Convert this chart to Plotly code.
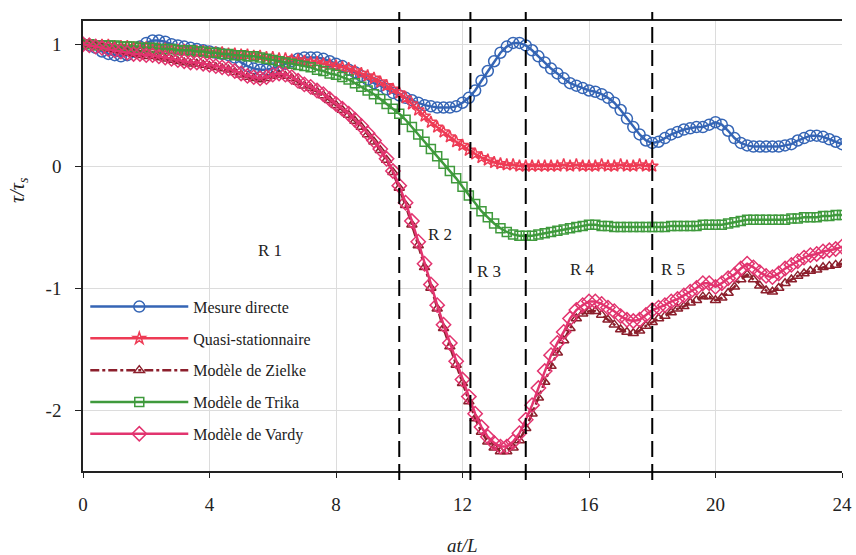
import plotly.graph_objects as go

# x sampling (at/L), step 0.2
x_full = [round(i * 0.2, 1) for i in range(121)]
x_quasi = [round(i * 0.2, 1) for i in range(91)]

mesure_directe = [
    1.00, 0.99, 0.97, 0.94, 0.92,
    0.91, 0.90, 0.91, 0.94, 0.98,
    1.01, 1.03, 1.03, 1.02, 1.00,
    0.99, 0.98, 0.97, 0.96, 0.95,
    0.94, 0.93, 0.92, 0.91, 0.89,
    0.85, 0.82, 0.80, 0.79, 0.79,
    0.80, 0.82, 0.84, 0.86, 0.88,
    0.89, 0.89, 0.89, 0.88, 0.86,
    0.84, 0.82, 0.79, 0.77, 0.74,
    0.71, 0.68, 0.66, 0.63, 0.60,
    0.58, 0.56, 0.54, 0.52, 0.50,
    0.49, 0.48, 0.48, 0.48, 0.49,
    0.52, 0.56, 0.62, 0.70, 0.78,
    0.86, 0.93, 0.98, 1.01, 1.01,
    0.99, 0.95, 0.90, 0.85, 0.80,
    0.76, 0.72, 0.68, 0.66, 0.64,
    0.62, 0.61, 0.59, 0.56, 0.52,
    0.46, 0.39, 0.32, 0.26, 0.21,
    0.19, 0.20, 0.23, 0.26, 0.28,
    0.30, 0.31, 0.32, 0.32, 0.34,
    0.36, 0.34, 0.29, 0.23, 0.19,
    0.17, 0.16, 0.16, 0.16, 0.16,
    0.16, 0.17, 0.18, 0.21, 0.23,
    0.25, 0.25, 0.24, 0.22, 0.20,
    0.18,
]

quasi_stationnaire = [
    1.00, 1.00, 0.99, 0.99, 0.99,
    0.98, 0.98, 0.98, 0.97, 0.97,
    0.97, 0.96, 0.96, 0.96, 0.95,
    0.95, 0.95, 0.94, 0.94, 0.94,
    0.93, 0.93, 0.93, 0.92, 0.92,
    0.91, 0.91, 0.90, 0.90, 0.89,
    0.89, 0.88, 0.88, 0.87, 0.87,
    0.86, 0.85, 0.85, 0.84, 0.83,
    0.82, 0.81, 0.80, 0.78, 0.76,
    0.74, 0.72, 0.69, 0.66, 0.63,
    0.60, 0.56, 0.51, 0.46, 0.41,
    0.36, 0.32, 0.28, 0.24, 0.20,
    0.17, 0.13, 0.10, 0.07, 0.05,
    0.03, 0.02, 0.01, 0.01, 0.00,
    0.00, 0.00, 0.00, 0.00, 0.00,
    0.00, 0.01, 0.00, 0.01, 0.00,
    0.00, 0.00, 0.01, 0.00, 0.00,
    0.01, 0.00, 0.00, 0.01, 0.00,
    0.00,
]

modele_zielke = [
    1.00, 0.99, 0.98, 0.97, 0.96,
    0.95, 0.94, 0.93, 0.92, 0.91,
    0.90, 0.90, 0.89, 0.88, 0.87,
    0.86, 0.85, 0.84, 0.84, 0.83,
    0.82, 0.81, 0.80, 0.79, 0.77,
    0.75, 0.73, 0.72, 0.71, 0.72,
    0.74, 0.75, 0.74, 0.72, 0.69,
    0.66, 0.64, 0.61, 0.58, 0.54,
    0.50, 0.46, 0.42, 0.37, 0.32,
    0.26, 0.20, 0.13, 0.05, -0.05,
    -0.18, -0.32, -0.48, -0.65, -0.83,
    -1.00, -1.17, -1.33, -1.48, -1.63,
    -1.78, -1.93, -2.07, -2.18, -2.26,
    -2.31, -2.34, -2.34, -2.31, -2.25,
    -2.15, -2.03, -1.90, -1.77, -1.64,
    -1.53, -1.43, -1.33, -1.25, -1.21,
    -1.19, -1.19, -1.22, -1.26, -1.30,
    -1.34, -1.36, -1.37, -1.35, -1.31,
    -1.28, -1.25, -1.23, -1.20, -1.17,
    -1.15, -1.12, -1.10, -1.07, -1.07,
    -1.10, -1.08, -1.04, -0.99, -0.93,
    -0.89, -0.93, -0.98, -1.02, -1.03,
    -1.00, -0.96, -0.93, -0.90, -0.88,
    -0.86, -0.85, -0.83, -0.82, -0.81,
    -0.80,
]

modele_trika = [
    1.00, 1.00, 0.99, 0.99, 0.99,
    0.99, 0.98, 0.98, 0.98, 0.97,
    0.97, 0.97, 0.96, 0.96, 0.96,
    0.95, 0.95, 0.95, 0.94, 0.94,
    0.93, 0.93, 0.92, 0.92, 0.91,
    0.91, 0.90, 0.90, 0.89, 0.88,
    0.87, 0.86, 0.85, 0.84, 0.83,
    0.82, 0.81, 0.79, 0.78, 0.76,
    0.75, 0.73, 0.71, 0.68, 0.65,
    0.62, 0.59, 0.55, 0.51, 0.47,
    0.43, 0.38, 0.32, 0.26, 0.20,
    0.14, 0.08, 0.02, -0.04, -0.10,
    -0.17, -0.24, -0.31, -0.37, -0.42,
    -0.47, -0.51, -0.54, -0.56, -0.57,
    -0.57, -0.57, -0.56, -0.55, -0.54,
    -0.53, -0.52, -0.51, -0.50, -0.49,
    -0.48, -0.48, -0.49, -0.49, -0.50,
    -0.50, -0.50, -0.50, -0.50, -0.50,
    -0.50, -0.50, -0.50, -0.49, -0.49,
    -0.49, -0.49, -0.49, -0.48, -0.48,
    -0.48, -0.48, -0.47, -0.46, -0.45,
    -0.44, -0.44, -0.44, -0.44, -0.44,
    -0.44, -0.44, -0.43, -0.43, -0.42,
    -0.42, -0.42, -0.41, -0.41, -0.40,
    -0.40,
]

modele_vardy = [
    1.00, 0.99, 0.98, 0.97, 0.96,
    0.95, 0.94, 0.93, 0.92, 0.92,
    0.91, 0.91, 0.90, 0.89, 0.88,
    0.87, 0.86, 0.85, 0.85, 0.84,
    0.83, 0.82, 0.81, 0.80, 0.78,
    0.76, 0.74, 0.73, 0.72, 0.73,
    0.75, 0.76, 0.75, 0.73, 0.70,
    0.67, 0.65, 0.62, 0.59, 0.55,
    0.51, 0.47, 0.43, 0.38, 0.33,
    0.27, 0.21, 0.14, 0.06, -0.04,
    -0.16, -0.30, -0.45, -0.62, -0.80,
    -0.97, -1.14, -1.30, -1.45, -1.60,
    -1.75, -1.89, -2.03, -2.14, -2.22,
    -2.27, -2.30, -2.30, -2.26, -2.19,
    -2.08, -1.96, -1.82, -1.68, -1.55,
    -1.45, -1.36, -1.25, -1.18, -1.14,
    -1.11, -1.11, -1.13, -1.16, -1.19,
    -1.23, -1.26, -1.27, -1.26, -1.22,
    -1.18, -1.16, -1.14, -1.11, -1.09,
    -1.06, -1.03, -1.00, -0.96, -0.96,
    -0.99, -0.96, -0.92, -0.89, -0.84,
    -0.80, -0.83, -0.87, -0.90, -0.91,
    -0.88, -0.84, -0.81, -0.78, -0.75,
    -0.73, -0.72, -0.70, -0.69, -0.68,
    -0.66,
]

region_bounds = [10, 12.25, 14, 18]
region_labels = ["R 1", "R 2", "R 3", "R 4", "R 5"]
region_label_x = [5.9, 11.3, 12.85, 15.8, 18.65]
region_label_y = [-0.69, -0.56, -0.86, -0.85, -0.85]

x_ticks = [0, 4, 8, 12, 16, 20, 24]
y_ticks = [-2, -1, 0, 1]
y_tick_text = ["-2", "-1", "0", "1"]

FONT = "Liberation Serif"

fig = go.Figure()

series = [
    ("Mesure directe", x_full, mesure_directe, "#3565b5", "circle-open", 11, "solid"),
    ("Quasi-stationnaire", x_quasi, quasi_stationnaire, "#ee3b55", "star-open", 9, "solid"),
    ("Modèle de Zielke", x_full, modele_zielke, "#8c1f2c", "triangle-up-open", 9, "dashdot"),
    ("Modèle de Trika", x_full, modele_trika, "#3f9a3c", "square-open", 9, "solid"),
    ("Modèle de Vardy", x_full, modele_vardy, "#e2346f", "diamond-open", 11, "solid"),
]

for i, (name, xs, ys, col, sym, sz, dash) in enumerate(series):
    fig.add_trace(go.Scatter(
        x=xs, y=ys, name=name, mode="lines+markers",
        line=dict(color=col, width=2.5, dash=dash),
        marker=dict(symbol=sym, size=sz, color=col, line=dict(color=col, width=1.5)),
        legendgroup="g%d" % i,
    ))

for xb in region_bounds:
    fig.add_shape(type="line", xref="x", yref="paper", x0=xb, x1=xb, y0=-0.02, y1=1.02,
                  line=dict(color="black", width=2, dash="16px,7px"), layer="above")

for lab, lx, ly in zip(region_labels, region_label_x, region_label_y):
    fig.add_annotation(x=lx, y=ly, xref="x", yref="y", text=lab, showarrow=False,
                       font=dict(family=FONT, size=17, color="#222"))

fig.add_annotation(x=0.5, y=-0.165, xref="paper", yref="paper", text="<i>at/L</i>",
                   xanchor="center", yanchor="middle",
                   showarrow=False, font=dict(family=FONT, size=19, color="#222"))
fig.add_annotation(x=-0.086, y=0.624, xref="paper", yref="paper",
                   text="<i>τ/τ<sub>s</sub></i>", textangle=-90,
                   xanchor="center", yanchor="middle",
                   showarrow=False, font=dict(family=FONT, size=20, color="#222"))

fig.update_layout(
    width=856, height=555,
    margin=dict(l=83, r=14, t=21, b=84, autoexpand=False),
    paper_bgcolor="white", plot_bgcolor="white",
    font=dict(family=FONT, color="#222"),
    showlegend=True,
    legend=dict(x=0.003, y=0.403, xanchor="left", yanchor="top",
                bgcolor="rgba(0,0,0,0)", font=dict(family=FONT, size=16, color="#222"),
                tracegroupgap=8, itemwidth=98),
    xaxis=dict(range=[0, 24], tickvals=x_ticks, showgrid=True, gridcolor="#dcdcdc",
               gridwidth=1, zeroline=False, showline=True, linecolor="#222", linewidth=1.5,
               mirror=True, ticks="outside", ticklen=5, tickcolor="#222",
               automargin=False, ticklabelstandoff=10,
               tickfont=dict(family=FONT, size=19, color="#222")),
    yaxis=dict(range=[-2.5, 1.19], tickvals=y_ticks, ticktext=y_tick_text,
               showgrid=True, gridcolor="#dcdcdc",
               gridwidth=1, zeroline=False, showline=True, linecolor="#222", linewidth=1.5,
               ticks="outside", ticklen=6, tickcolor="#222",
               automargin=False, ticklabelstandoff=10,
               tickfont=dict(family=FONT, size=19, color="#222")),
)

fig.write_html(
    "out.html",
    config={"displayModeBar": False},
    post_script="document.body.style.margin='0';document.body.style.overflow='hidden';",
)
